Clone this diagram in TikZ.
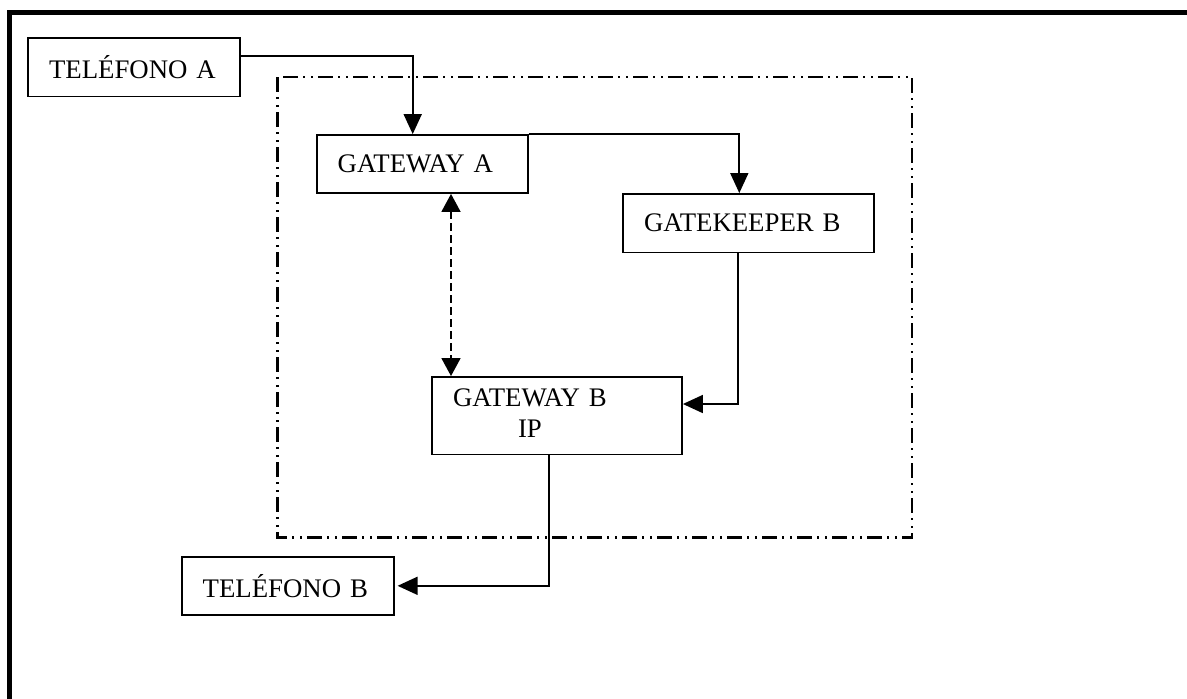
\documentclass[tikz,border=0pt]{standalone}
\usepackage{fontspec}
\setmainfont{Liberation Serif}
\usetikzlibrary{arrows.meta}

\tikzset{
  box/.style={draw, line width=0.9pt, inner xsep=10.5pt, inner ysep=0pt,
    align=left, font=\fontsize{13.4}{16}\selectfont},
  conn/.style={line width=0.85pt, -{Triangle[length=10pt,width=9pt]}},
  dconn/.style={line width=0.85pt, dash pattern=on 4pt off 2pt,
    {Triangle[length=9pt,width=9.5pt]}-{Triangle[length=9pt,width=9.5pt]}},
  netborder/.style={line width=1.1pt,
    dash pattern=on 7.5pt off 2.5pt on 1pt off 3pt on 1pt off 2.5pt},
  frame/.style={line width=2.8pt, line join=miter}
}

\begin{document}
\begin{tikzpicture}[x=0.5pt, y=-0.5pt]
  \useasboundingbox (0,0) rectangle (1187,698);
  \clip (0,0) rectangle (1187,698);

  % page frame (left and top edges)
  \draw[frame] (9.5,720) -- (9.5,12.5) -- (1210,12.5);

  % IP network boundary
  \draw[netborder] (277.5,77) rectangle (912,537.5);

  % equipment boxes
  \node[box, text width=85pt,   minimum height=29.25pt] (tela) at (134,67.25)   {TELÉFONO A};
  \node[box, text width=84.6pt, minimum height=29pt]    (gwa)  at (422.3,164)   {GATEWAY A};
  \node[box, text width=104.5pt,minimum height=29.25pt] (gk)   at (748.5,223.2) {GATEKEEPER B};
  \node[box, text width=104pt,  minimum height=38.75pt] (gwb)  at (557,415.7)
    {\begin{tabular}{@{}c@{}}GATEWAY B\\[-0.5pt] IP\end{tabular}};
  \node[box, text width=85pt,   minimum height=29.15pt] (telb) at (287.7,585.8) {TELÉFONO B};

  % signalling paths
  \draw[conn] ([yshift=-9.5pt]tela.north east) -| ([xshift=-4.8pt]gwa.north);
  \draw[conn] (gwa.north east) -| ([xshift=-4.6pt]gk.north);
  \draw[conn] ([xshift=-5.25pt]gk.south) |- ([yshift=5.85pt]gwb.east);
  \draw[conn, shorten >=1.5pt] ([xshift=-4pt]gwb.south) |- (telb.east);

  % media path between gateways
  \coordinate (dx) at (451,0);
  \draw[dconn] (gwa.south -| dx) -- (gwb.north -| dx);
\end{tikzpicture}
\end{document}
